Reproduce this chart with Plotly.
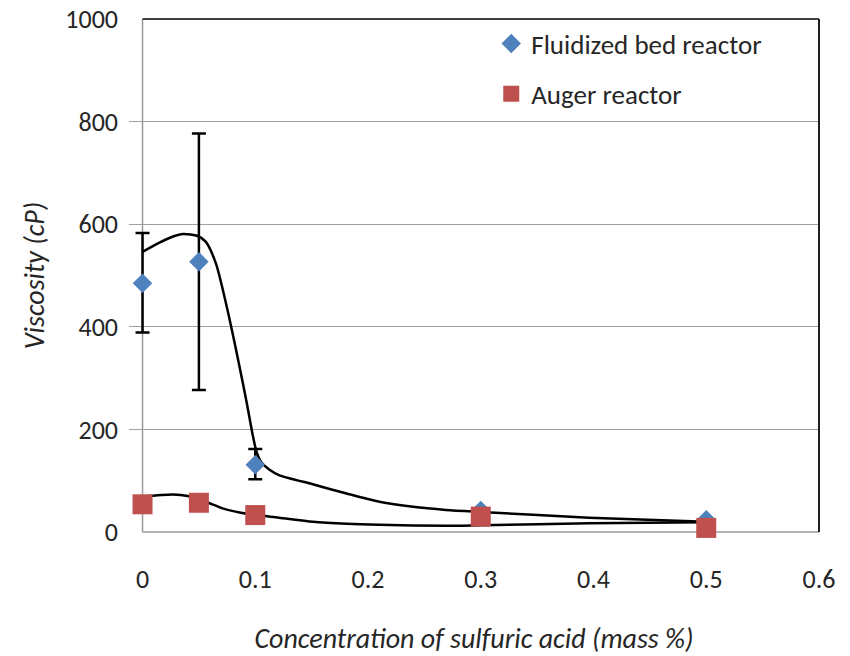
import plotly.graph_objects as go

# Data
conc = [0, 0.05, 0.1, 0.3, 0.5]
fbr_visc = [485, 527, 131, 42, 24]
fbr_err_plus = [98, 250, 31, 0, 0]
fbr_err_minus = [96, 250, 28, 0, 0]
auger_visc = [54, 57, 33, 30, 8]

# smoothed trend curves
fbr_trend_x = [0, 0.015, 0.027, 0.036, 0.049, 0.056, 0.065, 0.074, 0.083, 0.092, 0.098,
               0.101, 0.105, 0.113, 0.121, 0.151, 0.181, 0.21, 0.24, 0.269, 0.3, 0.396, 0.5]
fbr_trend_y = [546, 564, 576, 581, 577, 566, 524, 446, 355, 257, 186,
               157, 137, 121, 111, 93, 75, 59, 49, 43, 39, 28, 20]
auger_trend_x = [0, 0.027, 0.04, 0.056, 0.071, 0.086, 0.101, 0.121, 0.151, 0.181, 0.21,
                 0.269, 0.3, 0.396, 0.5]
auger_trend_y = [69, 73, 70, 59, 46, 38, 33, 28, 20, 16, 14,
                 12, 13, 17, 19]

x_ticks = [0, 0.1, 0.2, 0.3, 0.4, 0.5, 0.6]
y_ticks = [0, 200, 400, 600, 800, 1000]
X_MIN, X_MAX = 0, 0.6
Y_MIN, Y_MAX = 0, 1000
PAD = 0.012  # small extra room left of the y axis so the error-bar caps at x=0 are not clipped

FONT = "Carlito, Lato, 'Open Sans', sans-serif"
BLUE = "#4F81BD"
RED = "#C0504D"
TXT = "#262626"
AXIS_GRAY = "#999999"

fig = go.Figure()

for tx, ty in [(fbr_trend_x, fbr_trend_y), (auger_trend_x, auger_trend_y)]:
    fig.add_trace(go.Scatter(
        x=tx, y=ty, mode="lines",
        line=dict(color="black", width=2.5, shape="spline", smoothing=0.7),
        showlegend=False, hoverinfo="skip", cliponaxis=False))

fig.add_trace(go.Scatter(
    x=conc, y=fbr_visc, mode="markers", name="Fluidized bed reactor",
    marker=dict(symbol="diamond", size=15, color=BLUE),
    error_y=dict(type="data", symmetric=False, array=fbr_err_plus, arrayminus=fbr_err_minus,
                 color="black", thickness=2.5, width=7),
    legendgroup="a", cliponaxis=False))
fig.add_trace(go.Scatter(
    x=conc, y=auger_visc, mode="markers", name="Auger reactor",
    marker=dict(symbol="square", size=20, color=RED),
    legendgroup="b", cliponaxis=False))

# plot area: x=0 at 143 px, x=0.6 at 819 px
L = (143 - PAD * 819 / (X_MAX + PAD)) / (1 - PAD / (X_MAX + PAD))

fig.update_layout(
    width=850, height=656,
    margin=dict(l=L, r=31, t=19, b=124),
    paper_bgcolor="white", plot_bgcolor="white",
    font=dict(family=FONT, size=23, color=TXT),
    legend=dict(x=0.525, y=0.999, xanchor="left", yanchor="top",
                traceorder="grouped", tracegroupgap=12,
                bgcolor="rgba(0,0,0,0)", font=dict(family=FONT, size=27, color=TXT)),
    xaxis=dict(range=[X_MIN - PAD, X_MAX], tickvals=x_ticks, ticktext=[str(v) for v in x_ticks],
               showgrid=False, zeroline=False, showline=False,
               ticks="", ticklabelstandoff=29, automargin=False,
               tickfont=dict(family=FONT, size=26, color=TXT),
               title=dict(text="<i>Concentration of sulfuric acid (mass %)</i>", standoff=36,
                          font=dict(family=FONT, size=28, color=TXT))),
    yaxis=dict(range=[Y_MIN, Y_MAX], tickvals=y_ticks,
               showgrid=True, gridcolor="#a0a0a0", gridwidth=1, zeroline=False,
               showline=False,
               ticks="", ticklabelstandoff=10, automargin=False,
               tickfont=dict(family=FONT, size=26, color=TXT),
               title=dict(text="<i>Viscosity (cP)</i>", standoff=12,
                          font=dict(family=FONT, size=28, color=TXT))),
    shapes=[
        # hide grid left of the y axis
        dict(type="rect", xref="x", yref="paper", x0=X_MIN - PAD, x1=X_MIN, y0=-0.01, y1=1.01,
             fillcolor="white", line=dict(width=0), layer="between"),
        # left axis line
        dict(type="line", xref="x", yref="paper", x0=X_MIN, x1=X_MIN, y0=0, y1=1,
             line=dict(color=AXIS_GRAY, width=1.5), layer="between"),
        # bottom axis line
        dict(type="line", xref="x", yref="paper", x0=X_MIN, x1=X_MAX, y0=0, y1=0,
             line=dict(color=AXIS_GRAY, width=1.5), layer="between"),
        # top border
        dict(type="line", xref="x", yref="paper", x0=X_MIN, x1=X_MAX, y0=1, y1=1,
             line=dict(color="#404040", width=2)),
        # right border
        dict(type="line", xref="paper", yref="paper", x0=1, x1=1, y0=0, y1=1,
             line=dict(color="#202020", width=2)),
    ],
)

fig.write_html("out.html", config={"displayModeBar": False},
               post_script="document.body.style.margin='0';")
